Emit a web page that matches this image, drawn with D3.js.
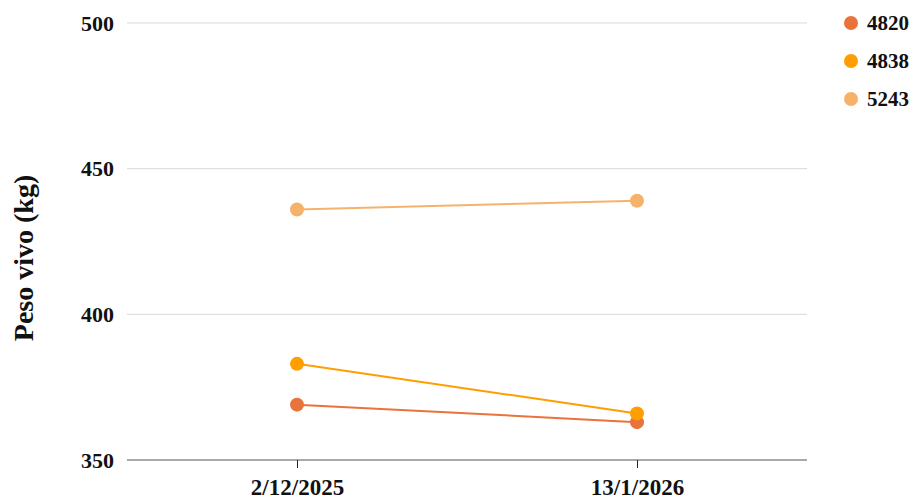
<!DOCTYPE html>
<head>
  <meta charset="utf-8">
  <script src="https://d3js.org/d3.v7.min.js"></script>
  <style>
    body { margin: 0; background: #fff; }
    svg { width: 914px; height: 501px; font-family: "Liberation Serif", "Times New Roman", serif; font-weight: bold; }
  </style>
</head>
<body>
  <svg></svg>
  <script>
    const width = 914;
    const height = 501;

    // data
    const dates = ['2/12/2025', '13/1/2026'];
    const animals = ['4820', '4838', '5243'];
    const weights4820 = [369, 363];
    const weights4838 = [383, 366];
    const weights5243 = [436, 439];
    const colors = ['#e8743b', '#ff9e00', '#f6b26b'];
    const yTicks = [350, 400, 450, 500];

    const series = [
      { name: animals[0], values: weights4820, color: colors[0] },
      { name: animals[1], values: weights4838, color: colors[1] },
      { name: animals[2], values: weights5243, color: colors[2] },
    ];

    const margin = { top: 23, right: 107, bottom: 41, left: 127 };
    const svg = d3.select('svg');

    const x = d3.scalePoint()
      .domain(dates)
      .range([margin.left, width - margin.right])
      .padding(0.5);

    const y = d3.scaleLinear()
      .domain([350, 500])
      .range([height - margin.bottom, margin.top]);

    // gridlines
    svg.append('g')
      .selectAll('line')
      .data(yTicks.slice(1)).enter().append('line')
      .attr('x1', margin.left)
      .attr('x2', width - margin.right)
      .attr('y1', d => y(d))
      .attr('y2', d => y(d))
      .attr('stroke', '#d9d9d9')
      .attr('stroke-width', 1);

    // y tick labels
    svg.append('g')
      .selectAll('text')
      .data(yTicks).enter().append('text')
      .attr('x', margin.left - 13)
      .attr('y', d => y(d))
      .attr('dy', '0.35em')
      .attr('text-anchor', 'end')
      .attr('font-size', 22)
      .attr('fill', '#111')
      .text(d => d);

    // x axis
    const xAxis = svg.append('g')
      .attr('transform', `translate(0,${height - margin.bottom})`)
      .call(d3.axisBottom(x).tickSize(8).tickSizeOuter(0));
    xAxis.select('.domain').attr('stroke', '#555').attr('d', `M${margin.left},0H${width - margin.right}`);
    xAxis.selectAll('.tick line').attr('stroke', '#222');
    xAxis.selectAll('.tick text')
      .attr('y', 35)
      .attr('dy', 0)
      .attr('font-size', 23)
      .attr('font-family', '"Liberation Serif", serif')
      .attr('font-weight', 'bold')
      .attr('fill', '#111');

    // y axis title
    svg.append('text')
      .attr('transform', `translate(33,258)rotate(-90)`)
      .attr('text-anchor', 'middle')
      .attr('font-size', 28)
      .attr('fill', '#111')
      .text('Peso vivo (kg)');

    // lines and points
    const line = d3.line()
      .x((d, i) => x(dates[i]))
      .y(d => y(d));

    const groups = svg.append('g')
      .selectAll('g')
      .data(series).enter().append('g');

    groups.append('path')
      .attr('d', d => line(d.values))
      .attr('fill', 'none')
      .attr('stroke', d => d.color)
      .attr('stroke-width', 2);

    groups.selectAll('circle')
      .data(d => d.values.map((v, i) => ({ v, i, color: d.color }))).enter().append('circle')
      .attr('cx', d => x(dates[d.i]))
      .attr('cy', d => y(d.v))
      .attr('r', 7)
      .attr('fill', d => d.color);

    // legend
    const legend = svg.append('g')
      .selectAll('g')
      .data(series).enter().append('g')
      .attr('transform', (d, i) => `translate(851,${23 + i * 38})`);

    legend.append('circle')
      .attr('r', 7)
      .attr('fill', d => d.color);

    legend.append('text')
      .attr('x', 16)
      .attr('dy', '0.35em')
      .attr('font-size', 21)
      .attr('fill', '#111')
      .text(d => d.name);
  </script>
</body>
